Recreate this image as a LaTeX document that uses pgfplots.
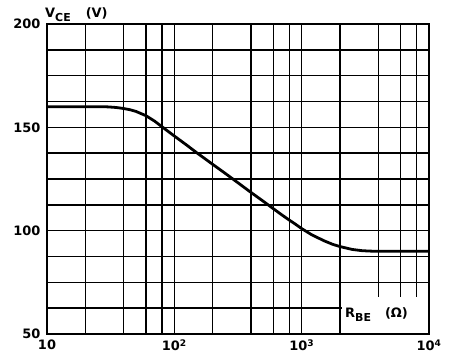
\documentclass[border=0pt]{standalone}
\usepackage{pgfplots}
\pgfplotsset{compat=1.18}
\usepackage{fontspec}
\setmainfont{DejaVu Sans}

\begin{document}
\fontsize{13}{15}\selectfont\bfseries
\begin{tikzpicture}
\useasboundingbox (-47bp,-27bp) rectangle (404bp,334bp);
\begin{axis}[
  at={(0,0)}, anchor=south west,
  scale only axis,
  width=382bp, height=310bp,
  xmode=log, xmin=10, xmax=10000, ymin=50, ymax=200,
  xtick={10,100,1000,10000},
  xticklabels={10,10\textsuperscript{2},10\textsuperscript{3},10\textsuperscript{4}},
  minor xtick={20,40,60,80,200,400,600,800,2000,4000,6000,8000},
  ytick={50,100,150,200},
  minor ytick={62.5,75,87.5,112.5,125,137.5,162.5,175,187.5},
  grid=both,
  major grid style={black,line width=1.5pt},
  minor grid style={black,line width=1.5pt},
  major tick length=0pt, minor tick length=0pt,
  axis line style={black,line width=2.6pt},
  tick label style={font=\fontsize{13}{15}\selectfont\bfseries},
  /pgf/number format/assume math mode=true,
  yticklabel style={xshift=-2bp},
  xticklabel style={yshift=-1bp},
]
\fill[white] (axis cs:2080,50) rectangle (axis cs:10000,67.9);
\addplot[black, line width=2.8pt, line join=round] coordinates {
  (10,160) (20,160) (25,160) (30,159.9) (35,159.6) (40,159.1) (45,158.5)
  (50,157.7) (60,155.6) (70,153) (80,150.3) (90,147.9) (100,145.8)
  (125,141.4) (150,137.7) (200,132.1) (250,127.8) (300,124.2) (400,118.5)
  (500,114.2) (600,110.6) (700,107.6) (800,105.1) (900,103) (1000,101)
  (1200,98) (1500,95.1) (1750,93.4) (2000,92.3) (2500,90.9) (3000,90.3)
  (3500,90.1) (4000,90) (10000,90)
};
\end{axis}
\draw[line width=2.6pt] (0,0) rectangle (382bp,310bp);
\node[anchor=base west, inner sep=0] at (-2bp,316bp)
  {V\raisebox{-3.5bp}{\fontsize{11}{13}\selectfont CE}\hspace{15bp}(V)};
\node[anchor=base west, inner sep=0] at (298bp,17bp)
  {R\raisebox{-4bp}{\fontsize{11}{13}\selectfont BE}\hspace{14bp}(Ω)};
\end{tikzpicture}
\end{document}
